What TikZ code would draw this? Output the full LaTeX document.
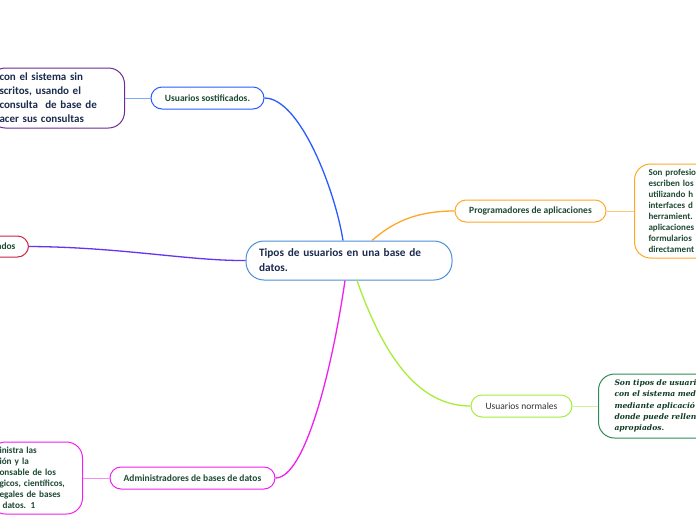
\documentclass[tikz,border=0pt]{standalone}
\usepackage{fontspec}
\setmainfont{Carlito}
\newfontfamily\heavy{DejaVu Serif}
\definecolor{cborder}{HTML}{4A90D9}
\definecolor{ctext}{HTML}{1C2B4D}
\definecolor{lbltext}{HTML}{1D4A33}
\definecolor{cblue}{HTML}{2B5BFF}
\definecolor{lblue}{HTML}{7FA8F5}
\definecolor{cpurple}{HTML}{6E2A96}
\definecolor{cred}{HTML}{CC2244}
\definecolor{cviolet}{HTML}{6633EE}
\definecolor{corange}{HTML}{FFA726}
\definecolor{lorange}{HTML}{FFC77A}
\definecolor{cgreen}{HTML}{A6EE3A}
\definecolor{lgreen}{HTML}{CCF59A}
\definecolor{cdgreen}{HTML}{2E8B57}
\definecolor{gtext}{HTML}{0E3B22}
\definecolor{cmag}{HTML}{F020F0}
\definecolor{lmag}{HTML}{F58CF5}
\tikzset{
  box/.style={draw, line width=1pt, fill=white, rounded corners=11pt, minimum height=22pt, inner sep=0pt, align=center,
    font=\bfseries\fontsize{9.5}{11}\selectfont, text=lbltext},
  bigbox/.style={draw, line width=1pt, fill=white, rounded corners=16pt, align=left, inner ysep=0pt},
  conn/.style={line width=1.3pt},
  thin/.style={line width=0.8pt}
}
\begin{document}
\begin{tikzpicture}[x=1pt,y=-1pt]
\useasboundingbox (0,0) rectangle (696,520);
\clip (0,0) rectangle (696,520);
\fill[white] (0,0) rectangle (696,520);

% central node
\node[draw=cborder, line width=1pt, rounded corners=18pt, minimum width=206pt, minimum height=39pt,
  text width=180pt, inner xsep=13pt, inner ysep=0pt, align=left, text=ctext,
  font=\bfseries\fontsize{11.3}{15}\selectfont] (c) at (349,260.5)
  {Tipos de usuarios en una base de\\datos.};

% first-level nodes
\node[box, draw=cblue, minimum width=113pt] (sost) at (207.5,98) {Usuarios sostificados.};
\node[box, draw=corange, minimum width=151pt] (prog) at (530.5,211) {Programadores de aplicaciones};
\node[box, draw=cgreen, minimum width=101pt, font=\fontsize{9.5}{11}\selectfont, text=black!80] (norm) at (521.5,406) {Usuarios normales};
\node[box, draw=cmag, minimum width=165pt] (admin) at (192.5,478) {Administradores de bases de datos};
\node[box, draw=cred, anchor=east, minimum height=21pt, inner xsep=13pt] (ados) at (29,246.5) {ados};

% second-level nodes
\node[bigbox, draw=cpurple, anchor=east, minimum height=60pt, text width=115pt, inner xsep=10pt,
  text=ctext, font=\bfseries\fontsize{11}{14}\selectfont] (sostd) at (125,98)
  {con el sistema sin\\scritos, usando el\\consulta\ \ de base de\\acer sus consultas};
\node[bigbox, draw=corange, anchor=west, minimum height=94pt, text width=130pt, inner xsep=14pt,
  text=lbltext, font=\bfseries\fontsize{9}{11.1}\selectfont] (progd) at (634,211)
  {Son profesio\\escriben los\\utilizando h\\interfaces d\\herramient.\\aplicaciones\\formularios\\directament};
\node[bigbox, draw=cdgreen, anchor=west, minimum height=64pt, text width=130pt, inner xsep=16pt,
  text=gtext, font=\heavy\bfseries\itshape\fontsize{7.6}{11.25}\selectfont] (normd) at (598,406)
  {Son tipos de usuari\\con el sistema med\\mediante aplicació\\donde puede rellen\\apropiados.};
\node[bigbox, draw=cmag, anchor=east, minimum height=72pt, text width=73pt, inner xsep=10pt,
  text=lbltext, font=\bfseries\fontsize{9.2}{11}\selectfont] (admind) at (83,478)
  {inistra las\\ión y la\\onsable de los\\gicos, científicos,\\egales de bases\\\ datos. 1};

% main connectors
\draw[conn, cblue] (sost.east) .. controls (300,98) and (335,190) .. ([xshift=-6pt]c.north);
\draw[conn, corange] ([xshift=23pt]c.north) .. controls (395,220) and (420,211) .. (prog.west);
\draw[conn, cgreen] ([xshift=8pt]c.south) .. controls (385,360) and (420,406) .. (norm.west);
\draw[conn, cmag] ([xshift=-4pt]c.south) .. controls (332,370) and (305,478) .. (admin.east);
\draw[conn, cviolet] (ados.east) .. controls (120,247) and (190,261) .. (c.west);

% secondary connectors
\draw[thin, lblue] (sost.west) -- (sostd.east);
\draw[thin, lorange] (prog.east) -- (progd.west);
\draw[thin, lgreen] (norm.east) -- (normd.west);
\draw[thin, lmag] (admin.west) -- (admind.east);
\end{tikzpicture}
\end{document}
